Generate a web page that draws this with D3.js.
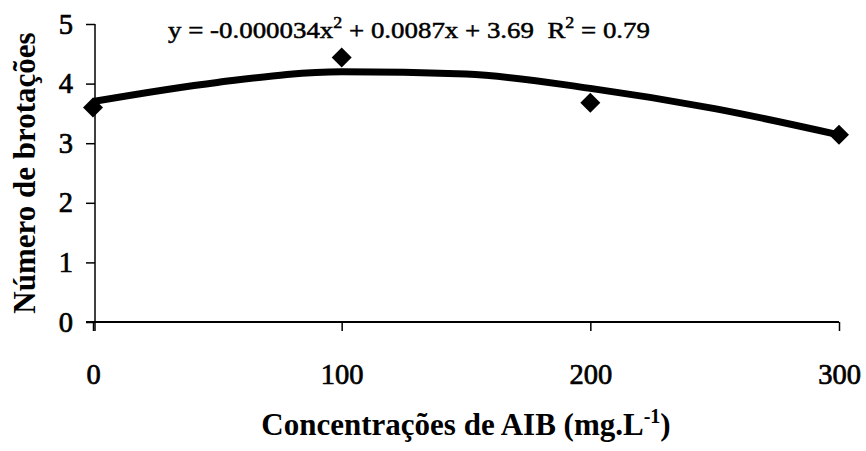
<!DOCTYPE html>
<html>
<head>
<meta charset="utf-8">
<script src="https://cdn.jsdelivr.net/npm/d3@7"></script>
<style>
  body { margin: 0; background: #fff; }
  text { font-family: "Liberation Serif", "Times New Roman", serif; fill: #000; }
</style>
</head>
<body>
<svg id="mychart"></svg>
<script>
const width = 866
const height = 451
const margin = ({top: 24, right: 27, bottom: 129, left: 93})

// observed means
const doses = [0, 100, 200, 300]
const brotacoes = [3.60, 4.44, 3.68, 3.14]

// trend line
const trendX = [0, 50, 100, 150, 200, 250, 300]
const trendY = [3.70, 4.02, 4.20, 4.16, 3.92, 3.58, 3.14]

const xTicks = [0, 100, 200, 300]
const yTicks = [0, 1, 2, 3, 4, 5]

const x = d3.scaleLinear()
    .domain([0, 300])
    .range([margin.left, width - margin.right])

const y = d3.scaleLinear()
    .domain([0, 5])
    .range([height - margin.bottom, margin.top])

const tickStyle = g => g.selectAll(".tick text")
    .attr("font-size", 28.5)
    .attr("font-family", "Liberation Serif")
    .attr("stroke", "#000").attr("stroke-width", 0.7)

const xAxis = g => g
    .attr("transform", `translate(0,${y(0)})`)
    .call(d3.axisBottom(x).tickValues(xTicks).tickFormat(d3.format("d")).tickSize(9).tickSizeOuter(0).tickPadding(33))
    .call(g => g.select(".domain").remove())
    .call(tickStyle)

const yAxis = g => g
    .attr("transform", `translate(${margin.left + 2},0)`)
    .call(d3.axisLeft(y).tickValues(yTicks).tickFormat(d3.format("d")).tickSize(9).tickSizeOuter(0).tickPadding(13))
    .call(g => g.select(".domain").remove())
    .call(tickStyle)

function chart () {
    const svg = d3.select('#mychart')
        .attr('width', width).attr('height', height)
        .attr('viewBox', [0, 0, width, height])

    svg.append("g").call(xAxis)
    svg.append("g").call(yAxis)
    svg.selectAll(".tick line").attr("stroke", "#000").attr("stroke-width", 1.5)

    // axis lines
    svg.append("line")
        .attr("x1", margin.left + 2).attr("x2", margin.left + 2)
        .attr("y1", y(5)).attr("y2", y(0) + 9)
        .attr("stroke", "#000").attr("stroke-width", 1.5)
    svg.append("line")
        .attr("x1", margin.left - 7).attr("x2", x(300))
        .attr("y1", y(0)).attr("y2", y(0))
        .attr("stroke", "#000").attr("stroke-width", 1.8)

    const line = d3.line()
        .x((d, i) => x(trendX[i]))
        .y(d => y(d))
        .curve(d3.curveMonotoneX)

    svg.append("path")
        .datum(trendY)
        .attr("fill", "none")
        .attr("stroke", "#000")
        .attr("stroke-width", 7)
        .attr("d", line)

    svg.append("g")
        .selectAll("path")
        .data(brotacoes)
        .join("path")
        .attr("d", d3.symbol(d3.symbolSquare, 200))
        .attr("transform", (d, i) => `translate(${x(doses[i])},${y(d)}) rotate(45)`)
        .attr("fill", "#000")

    // equation
    const eq = svg.append("text")
        .attr("x", 168).attr("y", 38)
        .attr("font-size", 24)
        .attr("stroke", "#000").attr("stroke-width", 0.5)
        .attr("textLength", 482).attr("lengthAdjust", "spacingAndGlyphs")
    eq.append("tspan").text("y = -0.000034x")
    eq.append("tspan").attr("dy", -10).attr("font-size", 16).text("2")
    eq.append("tspan").attr("dy", 10).text(" + 0.0087x + 3.69\u00a0\u00a0R")
    eq.append("tspan").attr("dy", -10).attr("font-size", 16).text("2")
    eq.append("tspan").attr("dy", 10).text(" = 0.79")

    // x title
    const xt = svg.append("text")
        .attr("x", (x(0) + x(300)) / 2).attr("y", 435)
        .attr("text-anchor", "middle")
        .attr("font-size", 31).attr("font-weight", "bold")
    xt.append("tspan").text("Concentrações de AIB (mg.L")
    xt.append("tspan").attr("dy", -12).attr("font-size", 20).text("-1")
    xt.append("tspan").attr("dy", 12).text(")")

    // y title
    svg.append("text")
        .attr("transform", `translate(35,${(y(0) + y(5)) / 2}) rotate(-90)`)
        .attr("text-anchor", "middle")
        .attr("font-size", 31).attr("font-weight", "bold")
        .text("Número de brotações")

    return svg.node()
}

chart()
</script>
</body>
</html>
